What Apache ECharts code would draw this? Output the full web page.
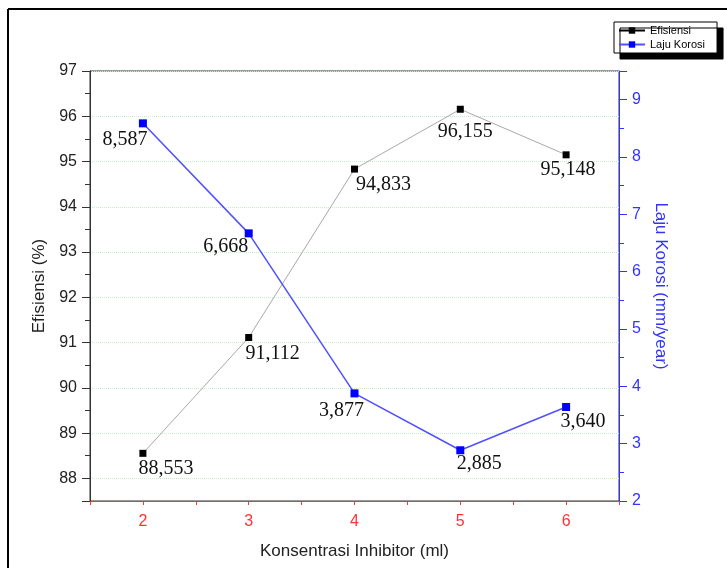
<!DOCTYPE html>
<html><head><meta charset="utf-8">
<script src="https://cdn.jsdelivr.net/npm/echarts@6/dist/echarts.min.js"></script>
<style>html,body{margin:0;padding:0;background:#fff}#c{width:727px;height:568px}</style>
</head><body><div id="c"></div>
<script>
// ---- data ----
const categories = ['2', '3', '4', '5', '6'];
const efisiensi = [88.553, 91.112, 94.833, 96.155, 95.148];
const lajuKorosi = [8.587, 6.668, 3.877, 2.885, 3.640];
const leftAxisRange = [87.5, 97];
const rightAxisRange = [2, 9.5];
const xAxisRange = [1.5, 6.5];

// ---- label placement (style only) ----
const effLabelOffsets = [[23, 15], [24, 16], [29, 16], [5, 23], [2, 15]];
const lajuLabelOffsets = [[-18, 16], [-23, 13], [-13, 17], [19, 13], [17, 15]];

const SANS = "'Liberation Sans', Arial, sans-serif";
const SERIF = "'Liberation Serif', 'Times New Roman', serif";
const fmtComma = v => v.toFixed(3).replace('.', ',');
const intOnly = v => (Math.abs(v - Math.round(v)) < 1e-9 ? String(Math.round(v)) : '');

const chart = echarts.init(document.getElementById('c'), null, { renderer: 'canvas' });
chart.setOption({
  animation: false,
  backgroundColor: '#fff',
  graphic: [
    { type: 'line', shape: { x1: 8, y1: 9, x2: 727, y2: 9 }, style: { stroke: '#000', lineWidth: 2 }, silent: true },
    { type: 'line', shape: { x1: 8, y1: 9, x2: 8, y2: 568 }, style: { stroke: '#000', lineWidth: 2 }, silent: true }
  ],
  grid: { left: 90, right: 108, top: 71, bottom: 67, show: true, borderColor: '#333', borderWidth: 1, backgroundColor: 'transparent' },
  legend: {
    orient: 'vertical', left: 614, top: 22,
    backgroundColor: '#fff', borderColor: '#000', borderWidth: 1,
    shadowColor: '#000', shadowOffsetX: 6, shadowOffsetY: 6, shadowBlur: 0,
    padding: [3, 12, 3, 4], itemGap: 3, itemWidth: 26, itemHeight: 8,
    textStyle: { fontFamily: SANS, fontSize: 11, color: '#000' },
    data: [
      { name: 'Efisiensi', itemStyle: { color: '#000' }, lineStyle: { color: '#000' } },
      { name: 'Laju Korosi' }
    ]
  },
  xAxis: [
    {
      type: 'category', data: categories, boundaryGap: true, position: 'bottom',
      axisLine: { onZero: false, lineStyle: { color: '#ff3333', width: 1 } },
      axisTick: { alignWithLabel: true, length: 7, lineStyle: { color: '#ff3333' } },
      axisLabel: { color: '#ff3333', fontSize: 16, fontFamily: SANS, margin: 13 },
      splitLine: { show: false },
      name: 'Konsentrasi Inhibitor (ml)', nameLocation: 'middle', nameGap: 42,
      nameTextStyle: { fontFamily: SANS, fontSize: 17, color: '#222' }
    },
    {
      type: 'value', min: xAxisRange[0], max: xAxisRange[1], interval: 0.5, position: 'bottom',
      axisLine: { show: false, onZero: false },
      axisTick: { show: true, length: 4, lineStyle: { color: '#ff3333' } },
      axisLabel: { show: false }, splitLine: { show: false }
    }
  ],
  yAxis: [
    {
      type: 'value', min: leftAxisRange[0], max: leftAxisRange[1], interval: 0.5, position: 'left',
      axisLine: { show: true, onZero: false, lineStyle: { color: '#333' } },
      axisTick: { show: true, length: 5, lineStyle: { color: '#333' } },
      axisLabel: { formatter: intOnly, color: '#222', fontSize: 16, fontFamily: SANS, margin: 13 },
      splitLine: { show: false },
      name: 'Efisiensi (%)', nameLocation: 'middle', nameGap: 41,
      nameTextStyle: { fontFamily: SANS, fontSize: 17, color: '#222' }
    },
    {
      type: 'value', min: rightAxisRange[0], max: rightAxisRange[1], interval: 0.5, position: 'right',
      axisLine: { show: true, onZero: false, lineStyle: { color: '#3333ff' } },
      axisTick: { show: true, length: 5, lineStyle: { color: '#3333ff' } },
      axisLabel: { formatter: intOnly, color: '#3333ff', fontSize: 16, fontFamily: SANS, margin: 13 },
      splitLine: { show: false },
      name: 'Laju Korosi (mm/year)', nameLocation: 'middle', nameGap: 32, nameRotate: -90,
      nameTextStyle: { fontFamily: SANS, fontSize: 17, color: '#3333ff' }
    },
    {
      // major ticks + gridlines at integer values of the left axis (counted from the top)
      type: 'value', inverse: true, min: 0, max: leftAxisRange[1] - leftAxisRange[0], interval: 1, position: 'left',
      axisLine: { show: false, onZero: false },
      axisTick: { show: true, length: 8, lineStyle: { color: '#333' } },
      axisLabel: { show: false },
      splitLine: { show: true, showMaxLine: false, lineStyle: { color: '#c4f2c4', type: 'dotted', width: 1 } }
    },
    {
      // major ticks of the right axis
      type: 'value', min: rightAxisRange[0], max: rightAxisRange[1], interval: 1, position: 'right',
      axisLine: { show: false, onZero: false },
      axisTick: { show: true, length: 8, lineStyle: { color: '#3333ff' } },
      axisLabel: { show: false }, splitLine: { show: false }
    }
  ],
  series: [
    {
      name: 'Efisiensi', type: 'line', xAxisIndex: 0, yAxisIndex: 0,
      data: efisiensi.map((v, i) => ({ value: v, label: { offset: effLabelOffsets[i] } })),
      symbol: 'rect', symbolSize: 7,
      itemStyle: { color: '#000' },
      lineStyle: { color: '#a8a8a8', width: 1 },
      label: { show: true, position: 'inside', formatter: p => fmtComma(p.value), fontFamily: SERIF, fontSize: 20, color: '#111' },
      z: 3
    },
    {
      name: 'Laju Korosi', type: 'line', xAxisIndex: 0, yAxisIndex: 1,
      data: lajuKorosi.map((v, i) => ({ value: v, label: { offset: lajuLabelOffsets[i] } })),
      symbol: 'rect', symbolSize: 8,
      itemStyle: { color: '#0000ff' },
      lineStyle: { color: '#5050ff', width: 1.5 },
      label: { show: true, position: 'inside', formatter: p => fmtComma(p.value), fontFamily: SERIF, fontSize: 20, color: '#111' },
      z: 3
    }
  ]
});
</script>
</body></html>
